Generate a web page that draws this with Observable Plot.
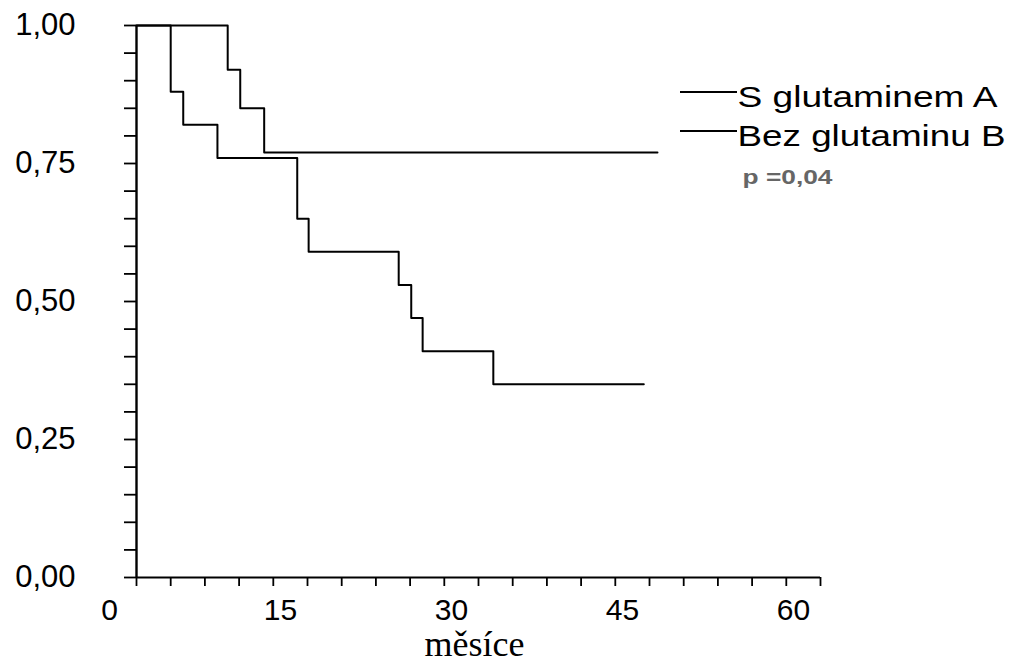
<!DOCTYPE html>
<html><head><meta charset="utf-8">
<script src="https://cdn.jsdelivr.net/npm/d3@7"></script>
<script src="https://cdn.jsdelivr.net/npm/@observablehq/plot@0.6"></script>
<style>
body{margin:0;background:#fff;}
#wrap{position:relative;width:1015px;height:663px;overflow:hidden;}
.legline{position:absolute;height:2px;background:#000;}
</style></head><body><div id="wrap"></div>
<script>
// Kaplan-Meier step data
const timesA = [0, 8.0, 9.1, 11.2, 45.7];
const survA  = [1.00, 0.92, 0.85, 0.77, 0.77];
const timesB = [0, 3.0, 4.1, 7.1, 14.1, 15.1, 23.0, 24.1, 25.1, 31.3, 44.5];
const survB  = [1.00, 0.88, 0.82, 0.76, 0.65, 0.59, 0.53, 0.47, 0.41, 0.35, 0.35];
const seriesNames = ["S glutaminem A", "Bez glutaminu B"];
const xTickLabels = [0, 15, 30, 45, 60];
const xMinorTicks = d3.range(0, 61, 3);
const yTickLabels = [0, 0.25, 0.5, 0.75, 1];
const yMinorTicks = d3.range(0, 21).map(i => i * 0.05);
const xLabel = "měsíce";
const pText = "p =0,04";

const table = [
  ...timesA.map((t, i) => ({t, s: survA[i], g: seriesNames[0]})),
  ...timesB.map((t, i) => ({t, s: survB[i], g: seriesNames[1]}))
];

const fmt = d => d.toFixed(2).replace(".", ",");

const chart = Plot.plot({
  width: 1015, height: 663,
  marginLeft: 136, marginRight: 195, marginTop: 25, marginBottom: 86,
  x: {domain: [0, 60], label: null},
  y: {domain: [0, 1], label: null},
  style: {fontFamily: "'Liberation Sans', Arial, sans-serif", background: "#fff", color: "#000", overflow: "visible"},
  marks: [
    Plot.axisY({ticks: yMinorTicks, tickSize: 12, tickFormat: () => "", strokeWidth: 1.8, label: null}),
    Plot.axisY({ticks: yTickLabels, tickSize: 0, tickPadding: 61, tickFormat: fmt, fontSize: 31, label: null}),
    Plot.axisX({ticks: xMinorTicks, tickSize: 9, tickFormat: () => "", strokeWidth: 1.8, label: null}),
    Plot.axisX({ticks: xTickLabels, tickSize: 0, tickPadding: 21, dx: -27, fontSize: 30, label: null}),
    Plot.ruleX([0], {stroke: "#000", strokeWidth: 2.4}),
    Plot.ruleY([0], {stroke: "#000", strokeWidth: 2.2}),
    Plot.line(table, {x: "t", y: "s", z: "g", curve: "step-after", stroke: "#000", strokeWidth: 2}),
    Plot.text([xLabel], {frameAnchor: "bottom", dx: -4, dy: 78, lineAnchor: "bottom", fontSize: 36,
      fontFamily: "'Liberation Serif', 'Times New Roman', serif", fill: "#000"}),
    Plot.text([seriesNames[0]], {frameAnchor: "top-left", textAnchor: "start", lineAnchor: "bottom",
      dx: 601, dy: 81, fontSize: 30, fill: "#000"}),
    Plot.text([seriesNames[1]], {frameAnchor: "top-left", textAnchor: "start", lineAnchor: "bottom",
      dx: 601, dy: 120, fontSize: 30, fill: "#000"}),
    Plot.text([pText], {frameAnchor: "top-left", textAnchor: "start", lineAnchor: "bottom",
      dx: 606, dy: 158, fontSize: 21, fontWeight: "bold", fill: "#666"})
  ]
});
// the legend lettering of the original is horizontally stretched
const widths = new Map([[seriesNames[0], 260], [seriesNames[1], 268], [pText, 90]]);
d3.select(chart).selectAll("text")
  .filter(function() { return widths.has(this.textContent); })
  .attr("textLength", function() { return widths.get(this.textContent); })
  .attr("lengthAdjust", "spacingAndGlyphs");

const wrap = document.getElementById("wrap");
wrap.appendChild(chart);
// legend swatch lines
[92, 131].forEach(top => {
  const d = document.createElement("div");
  d.className = "legline";
  d.style.left = "680px"; d.style.width = "57px"; d.style.top = (top - 1) + "px";
  wrap.appendChild(d);
});
</script>
</body></html>
